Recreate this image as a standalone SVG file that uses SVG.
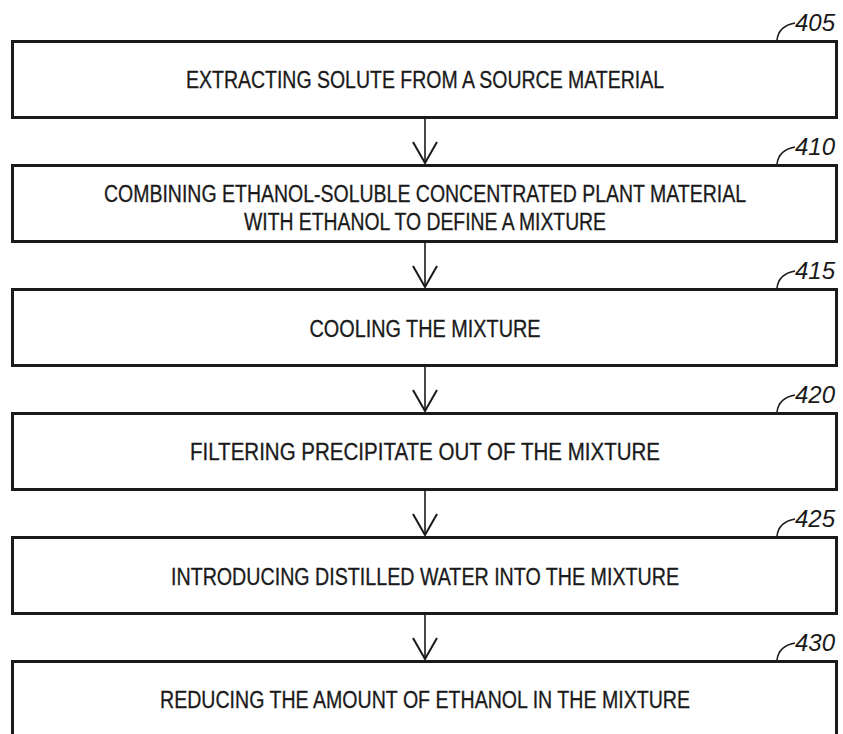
<svg xmlns="http://www.w3.org/2000/svg" width="843" height="734" viewBox="0 0 843 734">
  <defs>
    <style>
      .box { fill: #ffffff; stroke: #1a1a1a; stroke-width: 3; }
      .txt { font-family: "Liberation Sans", Arial, sans-serif; font-size: 23px; fill: #1a1a1a; stroke: #1a1a1a; stroke-width: 0.3; text-anchor: middle; dominant-baseline: central; }
      .ref { font-family: "Liberation Sans", Arial, sans-serif; font-size: 24px; font-style: italic; fill: #1a1a1a; }
      .lead { fill: none; stroke: #1a1a1a; stroke-width: 1.6; }
      .flow { fill: none; stroke: #1a1a1a; stroke-width: 1.6; }
      .head { fill: none; stroke: #1a1a1a; stroke-width: 2; stroke-linejoin: miter; }
    </style>
  </defs>
  <rect width="843" height="734" fill="#ffffff"/>

  <!-- flow connectors between steps -->
  <g id="connectors">
    <line class="flow" x1="425" y1="119" x2="425" y2="163"/>
    <polyline class="head" points="413,142 425,163 437,142"/>
    <line class="flow" x1="425" y1="243" x2="425" y2="287"/>
    <polyline class="head" points="413,266 425,287 437,266"/>
    <line class="flow" x1="425" y1="367" x2="425" y2="411"/>
    <polyline class="head" points="413,390 425,411 437,390"/>
    <line class="flow" x1="425" y1="491" x2="425" y2="535"/>
    <polyline class="head" points="413,514 425,535 437,514"/>
    <line class="flow" x1="425" y1="615" x2="425" y2="659"/>
    <polyline class="head" points="413,638 425,659 437,638"/>
  </g>

  <g id="step-405">
    <rect class="box" x="12.5" y="41.5" width="824" height="76"/>
    <text class="txt" x="425" y="80" textLength="478" lengthAdjust="spacingAndGlyphs">EXTRACTING SOLUTE FROM A SOURCE MATERIAL</text>
    <path class="lead" d="M777,40 C778,31 784,25 795,23"/>
    <text class="ref" x="795" y="31">405</text>
  </g>

  <g id="step-410">
    <rect class="box" x="12.5" y="165.5" width="824" height="76"/>
    <text class="txt" x="425" y="194" textLength="642" lengthAdjust="spacingAndGlyphs">COMBINING ETHANOL-SOLUBLE CONCENTRATED PLANT MATERIAL</text>
    <text class="txt" x="425" y="222" textLength="362" lengthAdjust="spacingAndGlyphs">WITH ETHANOL TO DEFINE A MIXTURE</text>
    <path class="lead" d="M777,164 C778,155 784,149 795,147"/>
    <text class="ref" x="795" y="155">410</text>
  </g>

  <g id="step-415">
    <rect class="box" x="12.5" y="289.5" width="824" height="76"/>
    <text class="txt" x="425" y="329" textLength="231" lengthAdjust="spacingAndGlyphs">COOLING THE MIXTURE</text>
    <path class="lead" d="M777,288 C778,279 784,273 795,271"/>
    <text class="ref" x="795" y="279">415</text>
  </g>

  <g id="step-420">
    <rect class="box" x="12.5" y="413.5" width="824" height="76"/>
    <text class="txt" x="425" y="452" textLength="470" lengthAdjust="spacingAndGlyphs">FILTERING PRECIPITATE OUT OF THE MIXTURE</text>
    <path class="lead" d="M777,412 C778,403 784,397 795,395"/>
    <text class="ref" x="795" y="403">420</text>
  </g>

  <g id="step-425">
    <rect class="box" x="12.5" y="537.5" width="824" height="76"/>
    <text class="txt" x="425" y="577" textLength="508" lengthAdjust="spacingAndGlyphs">INTRODUCING DISTILLED WATER INTO THE MIXTURE</text>
    <path class="lead" d="M777,536 C778,527 784,521 795,519"/>
    <text class="ref" x="795" y="527">425</text>
  </g>

  <g id="step-430">
    <rect class="box" x="12.5" y="661.5" width="824" height="76"/>
    <text class="txt" x="425" y="700" textLength="530" lengthAdjust="spacingAndGlyphs">REDUCING THE AMOUNT OF ETHANOL IN THE MIXTURE</text>
    <path class="lead" d="M777,660 C778,651 784,645 795,643"/>
    <text class="ref" x="795" y="651">430</text>
  </g>
</svg>
